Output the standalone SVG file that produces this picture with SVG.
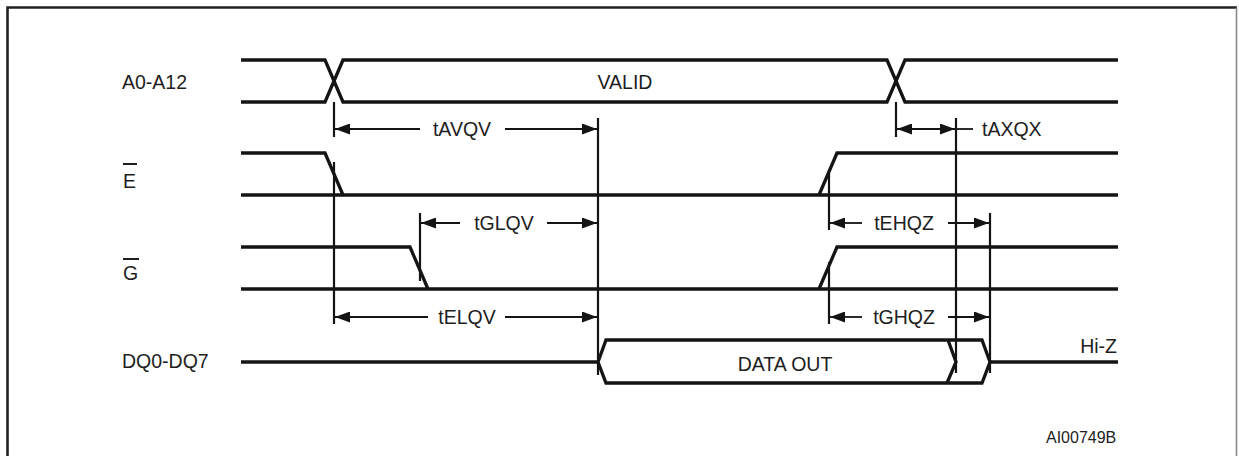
<svg xmlns="http://www.w3.org/2000/svg" width="1239" height="456" viewBox="0 0 1239 456">
<style>
.sig{fill:none;stroke:#141414;stroke-width:3.3;stroke-linejoin:miter}
.ref{fill:none;stroke:#141414;stroke-width:2.2}
.dim{fill:none;stroke:#141414;stroke-width:1.8}
.lbl{font-family:"Liberation Sans",Arial,sans-serif;font-size:19.5px;fill:#1e1e1e}
.sm{font-size:16px}
.ov{stroke:#1e1e1e;stroke-width:2}
</style>
<defs>
<marker id="ah" viewBox="0 0 15 11" refX="15" refY="5.5" markerWidth="15" markerHeight="11" markerUnits="userSpaceOnUse" orient="auto-start-reverse">
<path d="M0,0 L15,5.5 L0,11 z" fill="#141414"/>
</marker>
</defs>
<rect width="1239" height="456" fill="#fff"/>
<g id="frame">
<path d="M7.5,460 V7.5 H1237" fill="none" stroke="#222" stroke-width="2.6"/>
<path d="M1236.5,7.5 V460" fill="none" stroke="#8a8a8a" stroke-width="1.6"/>
</g>
<g id="addr">
<text class="lbl" x="122" y="89">A0-A12</text>
<path class="sig" d="M241,60 H325 L343,102 H887 L905,60 H1118"/>
<path class="sig" d="M241,102 H325 L343,60 H887 L905,102 H1118"/>
<text class="lbl" x="625" y="89" text-anchor="middle">VALID</text>
</g>
<g id="E">
<text class="lbl" x="123" y="188">E</text>
<line class="ov" x1="123" y1="164" x2="137" y2="164"/>
<path class="sig" d="M241,153 H325 L343,195"/>
<path class="sig" d="M241,195 H1118"/>
<path class="sig" d="M819,195 L837,153 H1118"/>
</g>
<g id="G">
<text class="lbl" x="123" y="280">G</text>
<line class="ov" x1="123" y1="259" x2="139" y2="259"/>
<path class="sig" d="M241,247 H410 L428,289"/>
<path class="sig" d="M241,289 H1118"/>
<path class="sig" d="M819,289 L837,247 H1118"/>
</g>
<g id="DQ">
<text class="lbl" x="122" y="368">DQ0-DQ7</text>
<path class="sig" d="M241,362 H598"/>
<path class="sig" d="M598,362 L606,340 H982 L990,362 L982,383 H606 Z"/>
<path class="sig" d="M948,340 L956,362 L947,383"/>
<path class="sig" d="M990,362 H1118"/>
<text class="lbl" x="785" y="371" text-anchor="middle">DATA OUT</text>
<text class="lbl" x="1117" y="353" text-anchor="end">Hi-Z</text>
</g>
<g id="connectors">
<line class="ref" x1="334" y1="102" x2="334" y2="137"/>
<line class="ref" x1="334" y1="162" x2="334" y2="324"/>
<line class="ref" x1="598" y1="118" x2="598" y2="375"/>
<line class="ref" x1="420" y1="213" x2="420" y2="281"/>
<line class="ref" x1="896" y1="102" x2="896" y2="137"/>
<line class="ref" x1="956" y1="118" x2="956" y2="373"/>
<line class="ref" x1="829" y1="173" x2="829" y2="230"/>
<line class="ref" x1="829" y1="262" x2="829" y2="324"/>
<line class="ref" x1="990" y1="213" x2="990" y2="373"/>

<line class="dim" x1="420" y1="129" x2="335" y2="129" marker-end="url(#ah)"/>
<line class="dim" x1="505" y1="129" x2="597" y2="129" marker-end="url(#ah)"/>
<text class="lbl" x="462" y="136" text-anchor="middle">tAVQV</text>

<line class="dim" x1="460" y1="223" x2="421" y2="223" marker-end="url(#ah)"/>
<line class="dim" x1="547" y1="223" x2="597" y2="223" marker-end="url(#ah)"/>
<text class="lbl" x="504" y="230" text-anchor="middle">tGLQV</text>

<line class="dim" x1="428" y1="317" x2="335" y2="317" marker-end="url(#ah)"/>
<line class="dim" x1="505" y1="317" x2="597" y2="317" marker-end="url(#ah)"/>
<text class="lbl" x="467" y="324" text-anchor="middle">tELQV</text>

<line class="dim" x1="897" y1="129" x2="955" y2="129" marker-start="url(#ah)" marker-end="url(#ah)"/>
<line class="dim" x1="955" y1="129" x2="973" y2="129"/>
<text class="lbl" x="982" y="136">tAXQX</text>

<line class="dim" x1="862" y1="223" x2="830" y2="223" marker-end="url(#ah)"/>
<line class="dim" x1="948" y1="223" x2="989" y2="223" marker-end="url(#ah)"/>
<text class="lbl" x="904" y="230" text-anchor="middle">tEHQZ</text>

<line class="dim" x1="862" y1="317" x2="830" y2="317" marker-end="url(#ah)"/>
<line class="dim" x1="948" y1="317" x2="989" y2="317" marker-end="url(#ah)"/>
<text class="lbl" x="904" y="324" text-anchor="middle">tGHQZ</text>
</g>
<g id="ref-code">
<text class="lbl sm" x="1046" y="443">AI00749B</text>
</g>
</svg>
